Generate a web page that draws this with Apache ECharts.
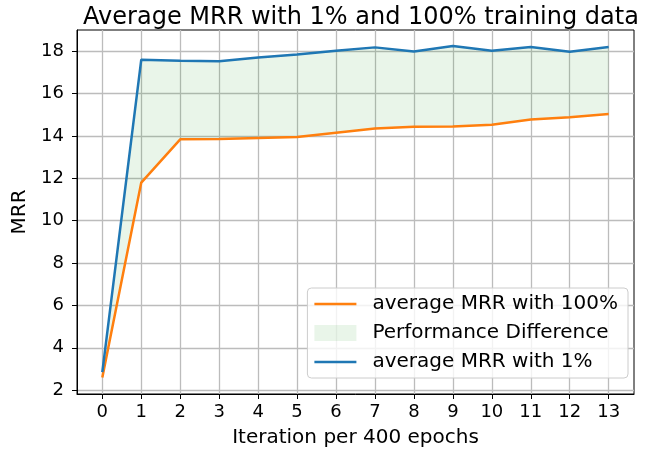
<!DOCTYPE html>
<html>
<head>
<meta charset="utf-8">
<script src="https://cdn.jsdelivr.net/npm/echarts@6/dist/echarts.min.js"></script>
<style>
  html, body { margin: 0; padding: 0; background: #fff; }
  #Chart { width: 650px; height: 454px; }
</style>
</head>
<body>
<div id="Chart"></div>
<script>
// 数据
var iterations = [0, 1, 2, 3, 4, 5, 6, 7, 8, 9, 10, 11, 12, 13];
var mrrFull = [2.6, 11.8, 13.84, 13.85, 13.9, 13.95, 14.15, 14.35, 14.43, 14.44, 14.53, 14.78, 14.88, 15.03];
var mrrOne = [2.85, 17.6, 17.55, 17.52, 17.7, 17.84, 18.02, 18.18, 17.98, 18.25, 18.02, 18.2, 17.97, 18.2];
var yTicks = [2, 4, 6, 8, 10, 12, 14, 16, 18];

var blue = "#1f77b4";
var orange = "#ff7f0e";
var fillColor = "rgba(44,160,44,0.1)";
var gridColor = "#bcbcbc";
var font = "DejaVu Sans";
var linePath = "path://M0,0H42V2.5H0Z";

function pairs(xs, ys) {
    var out = [];
    for (var i = 0; i < xs.length; i++) {
        out.push([xs[i], ys[i]]);
    }
    return out;
}
// y 放在第一维，堆叠才会叠在 y 上
function yFirst(xs, ys) {
    var out = [];
    for (var i = 0; i < xs.length; i++) {
        out.push([ys[i], xs[i]]);
    }
    return out;
}
var diff = [];
for (var i = 0; i < mrrOne.length; i++) {
    diff.push(mrrOne[i] - mrrFull[i]);
}

var myChart = echarts.init(document.getElementById("Chart"));
var option = {
    animation: false,
    title: {
        text: "Average MRR with 1% and 100% training data",
        left: 356,
        textAlign: "center",
        top: 1,
        textStyle: { fontFamily: font, fontSize: 24, fontWeight: "normal", color: "#000" }
    },
    grid: {
        left: 77,
        right: 16,
        top: 30,
        bottom: 60,
        show: true,
        borderColor: "#000",
        borderWidth: 1
    },
    legend: {
        orient: "vertical",
        right: 22,
        top: 288,
        padding: [6, 10, 6, 7],
        itemGap: 9,
        itemWidth: 42,
        itemHeight: 16,
        backgroundColor: "rgba(255,255,255,0.8)",
        borderColor: "#cccccc",
        borderWidth: 1,
        borderRadius: 4,
        textStyle: { fontFamily: font, fontSize: 20, color: "#000", padding: [0, 0, 0, 11] },
        data: [
            { name: "average MRR with 100%", icon: linePath, itemStyle: { color: orange } },
            { name: "Performance Difference", icon: "rect", itemStyle: { color: fillColor } },
            { name: "average MRR with 1%", icon: linePath, itemStyle: { color: blue } }
        ]
    },
    xAxis: {
        type: "value",
        min: -0.65,
        max: 13.65,
        name: "Iteration per 400 epochs",
        nameLocation: "middle",
        nameGap: 34,
        nameTextStyle: { fontFamily: font, fontSize: 20, color: "#000" },
        axisLine: { show: true, onZero: false, lineStyle: { color: "#000", width: 1 } },
        axisTick: { show: true, length: 5, customValues: iterations, lineStyle: { color: "#000" } },
        axisLabel: { customValues: iterations, margin: 9, fontFamily: font, fontSize: 18, color: "#000" },
        splitLine: { show: true, lineStyle: { color: gridColor, width: 1.3 } }
    },
    yAxis: {
        type: "value",
        min: 1.82,
        max: 19.0,
        name: "MRR",
        nameLocation: "middle",
        nameGap: 41,
        nameTextStyle: { fontFamily: font, fontSize: 20, color: "#000" },
        axisLine: { show: true, onZero: false, lineStyle: { color: "#000", width: 1 } },
        axisTick: { show: true, length: 5, customValues: yTicks, lineStyle: { color: "#000" } },
        axisLabel: { customValues: yTicks, margin: 13, fontFamily: font, fontSize: 18, color: "#000" },
        splitLine: { show: true, lineStyle: { color: gridColor, width: 1.3 } }
    },
    series: [
        {
            name: "average MRR with 100%",
            type: "line",
            data: pairs(iterations, mrrFull),
            symbol: "none",
            lineStyle: { color: orange, width: 2.5 },
            itemStyle: { color: orange },
            z: 3
        },
        {
            name: "_base",
            type: "line",
            stack: "gap",
            data: yFirst(iterations, mrrFull),
            encode: { x: 1, y: 0 },
            symbol: "none",
            lineStyle: { opacity: 0 },
            silent: true,
            z: 2
        },
        {
            name: "Performance Difference",
            type: "line",
            stack: "gap",
            data: yFirst(iterations, diff),
            encode: { x: 1, y: 0 },
            symbol: "none",
            lineStyle: { opacity: 0 },
            itemStyle: { color: fillColor },
            areaStyle: { color: fillColor, opacity: 1 },
            z: 2
        },
        {
            name: "average MRR with 1%",
            type: "line",
            data: pairs(iterations, mrrOne),
            symbol: "none",
            lineStyle: { color: blue, width: 2.5 },
            itemStyle: { color: blue },
            z: 4
        }
    ]
};
myChart.setOption(option);
window.addEventListener("resize", function () {
    myChart.resize();
});
</script>
</body>
</html>
